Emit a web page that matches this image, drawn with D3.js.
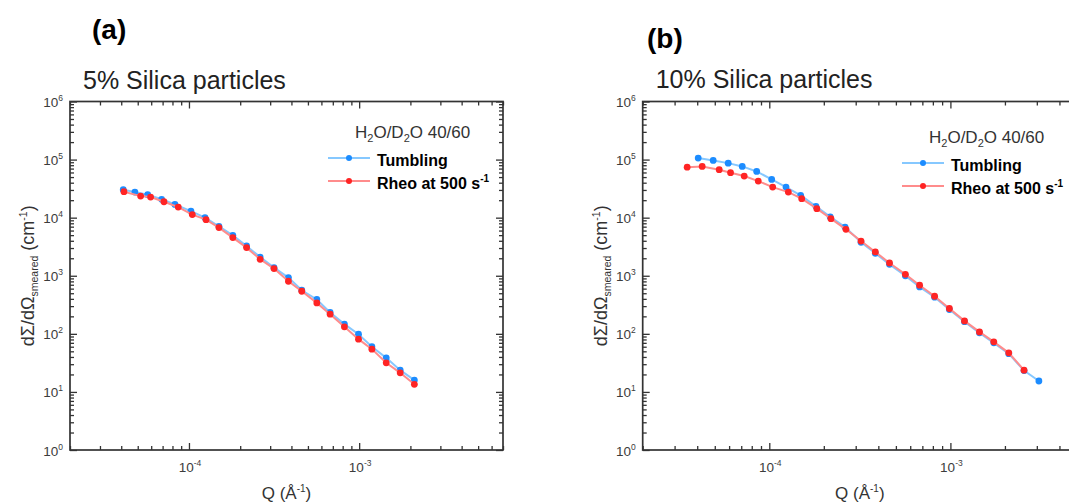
<!DOCTYPE html>
<html>
<head>
<meta charset="utf-8">
<script src="https://cdn.jsdelivr.net/npm/d3@7"></script>
<style>
  html, body { margin: 0; padding: 0; background: #fff; }
  svg { display: block; font-family: "Liberation Sans", Arial, sans-serif; }
</style>
</head>
<body>
<svg id="chart" width="1069" height="504"></svg>
<script>
// SANS scattering curves, smeared cross-section vs Q, two silica loadings.

// Panel (a): 5% silica
const qTumblingA = [4.11e-5, 4.81e-5, 5.72e-5, 6.91e-5, 8.27e-5, 1.027e-4, 1.242e-4, 1.50e-4, 1.81e-4, 2.18e-4, 2.62e-4, 3.16e-4, 3.84e-4, 4.60e-4, 5.64e-4, 6.75e-4, 8.19e-4, 9.91e-4, 1.188e-3, 1.442e-3, 1.742e-3, 2.11e-3];
const iTumblingA = [3.03e4, 2.76e4, 2.49e4, 2.07e4, 1.69e4, 1.30e4, 1.0e4, 7.1e3, 4.97e3, 3.25e3, 2.10e3, 1.38e3, 931, 563, 390, 233, 147, 98.6, 60, 38.6, 23.7, 16.0];
const qRheoA = [4.15e-5, 5.20e-5, 5.95e-5, 7.13e-5, 8.65e-5, 1.046e-4, 1.26e-4, 1.50e-4, 1.81e-4, 2.18e-4, 2.62e-4, 3.16e-4, 3.84e-4, 4.60e-4, 5.64e-4, 6.75e-4, 8.19e-4, 9.91e-4, 1.188e-3, 1.442e-3, 1.742e-3, 2.11e-3];
const iRheoA = [2.80e4, 2.35e4, 2.26e4, 1.88e4, 1.52e4, 1.13e4, 9.25e3, 6.74e3, 4.54e3, 3.05e3, 1.92e3, 1.33e3, 804, 541, 341, 218, 132, 81, 54.5, 31.7, 21.3, 13.5];

// Panel (b): 10% silica
const qTumblingB = [4.05e-5, 4.90e-5, 5.93e-5, 7.09e-5, 8.52e-5, 1.031e-4, 1.237e-4, 1.49e-4, 1.81e-4, 2.17e-4, 2.62e-4, 3.21e-4, 3.85e-4, 4.61e-4, 5.64e-4, 6.76e-4, 8.18e-4, 9.87e-4, 1.196e-3, 1.447e-3, 1.736e-3, 2.10e-3, 2.55e-3, 3.08e-3];
const iTumblingB = [1.06e5, 9.67e4, 8.69e4, 7.63e4, 6.25e4, 4.56e4, 3.36e4, 2.42e4, 1.57e4, 1.03e4, 6.90e3, 3.77e3, 2.44e3, 1.57e3, 1.0e3, 642, 427, 262, 162, 104, 70, 45.6, 23.3, 15.4];
const qRheoB = [3.52e-5, 4.26e-5, 5.29e-5, 6.11e-5, 7.27e-5, 8.69e-5, 1.044e-4, 1.274e-4, 1.51e-4, 1.83e-4, 2.19e-4, 2.65e-4, 3.21e-4, 3.85e-4, 4.61e-4, 5.64e-4, 6.76e-4, 8.18e-4, 9.87e-4, 1.196e-3, 1.447e-3, 1.736e-3, 2.10e-3, 2.55e-3];
const iRheoB = [7.41e4, 7.63e4, 6.69e4, 5.94e4, 5.20e4, 4.26e4, 3.36e4, 2.76e4, 2.12e4, 1.43e4, 9.62e3, 6.30e3, 3.96e3, 2.57e3, 1.66e3, 1.06e3, 687, 444, 273, 167, 108, 72.8, 47.1, 23.7];

// Axis ranges and labels
const qDomainA = [2e-5, 7e-3];
const qDomainB = [2e-5, 5e-3];
const intensityDomain = [1, 1e6];
const yTickExponents = [0, 1, 2, 3, 4, 5, 6];
const xTickExponents = [-4, -3];
const panelLetters = ["(a)", "(b)"];
const panelTitles = ["5% Silica particles", "10% Silica particles"];
const seriesNames = ["Tumbling", "Rheo at 500 s"];

const svg = d3.select("#chart");

const colors = {
  tumbling: { line: "#86c8ff", dot: "#1c8cff" },
  rheo: { line: "#ff8c8c", dot: "#ff2424" }
};

const panels = [
  { left: 70, right: 503, top: 101.5, bottom: 450, qDomain: qDomainA,
    letter: panelLetters[0], letterX: 92, letterY: 39,
    title: panelTitles[0], titleY: 89, legendDy: 0,
    series: [
      { q: qTumblingA, v: iTumblingA, c: colors.tumbling },
      { q: qRheoA, v: iRheoA, c: colors.rheo }
    ] },
  { left: 642.7, right: 1077, top: 101.5, bottom: 450, qDomain: qDomainB,
    letter: panelLetters[1], letterX: 647, letterY: 48,
    title: panelTitles[1], titleY: 88, legendDy: 5,
    series: [
      { q: qTumblingB, v: iTumblingB, c: colors.tumbling },
      { q: qRheoB, v: iRheoB, c: colors.rheo }
    ] }
];

const isDecade = v => Math.abs(Math.log10(v) - Math.round(Math.log10(v))) < 1e-6;

panels.forEach(p => {
  const g = svg.append("g");
  const x = d3.scaleLog().domain(p.qDomain).range([p.left, p.right]);
  const y = d3.scaleLog().domain(intensityDomain).range([p.bottom, p.top]);

  const xAll = x.ticks();
  const yAll = y.ticks();
  const xMajor = xAll.filter(isDecade), xMinor = xAll.filter(v => !isDecade(v));
  const yMajor = yAll.filter(isDecade), yMinor = yAll.filter(v => !isDecade(v));

  // inward-pointing ticks on all four sides
  const sides = [
    [d3.axisBottom, x, `translate(0,${p.bottom})`, xMajor, xMinor],
    [d3.axisTop, x, `translate(0,${p.top})`, xMajor, xMinor],
    [d3.axisLeft, y, `translate(${p.left},0)`, yMajor, yMinor],
    [d3.axisRight, y, `translate(${p.right},0)`, yMajor, yMinor]
  ];
  sides.forEach(([axisFn, scale, tr, major, minor]) => {
    [[major, 7], [minor, 4]].forEach(([vals, len]) => {
      g.append("g")
        .attr("transform", tr)
        .call(axisFn(scale).tickValues(vals).tickSize(-len).tickFormat(() => ""))
        .call(s => s.select(".domain").remove())
        .call(s => s.selectAll("line").attr("stroke", "#333").attr("stroke-width", 1.3));
    });
  });

  // frame
  g.append("rect")
    .attr("x", p.left).attr("y", p.top)
    .attr("width", p.right - p.left).attr("height", p.bottom - p.top)
    .attr("fill", "none").attr("stroke", "#333").attr("stroke-width", 1.7);

  // y tick labels 10^n
  yTickExponents.forEach(e => {
    const t = g.append("text")
      .attr("x", p.left - 7).attr("y", y(Math.pow(10, e)) + 5.5)
      .attr("text-anchor", "end").attr("font-size", 13.5).attr("fill", "#3c3c3c");
    t.append("tspan").text("10");
    t.append("tspan").attr("font-size", 8.5).attr("dy", -6).text(e);
  });

  // x tick labels 10^n
  xTickExponents.forEach(e => {
    const t = g.append("text")
      .attr("x", x(Math.pow(10, e)) + 1).attr("y", 472)
      .attr("text-anchor", "middle").attr("font-size", 13.5).attr("fill", "#3c3c3c");
    t.append("tspan").text("10");
    t.append("tspan").attr("font-size", 8.5).attr("dy", -6).text(e);
  });

  // axis titles
  const yl = g.append("text")
    .attr("transform", `translate(${p.left - 36},${(p.top + p.bottom) / 2}) rotate(-90)`)
    .attr("text-anchor", "middle").attr("font-size", 18).attr("fill", "#333");
  yl.append("tspan").text("dΣ/dΩ");
  yl.append("tspan").attr("font-size", 10.5).attr("dy", 4).text("smeared");
  yl.append("tspan").attr("dy", -4).text(" (cm");
  yl.append("tspan").attr("font-size", 10.5).attr("dy", -7).text("-1");
  yl.append("tspan").attr("dy", 7).text(")");

  const xl = g.append("text")
    .attr("x", (p.left + p.right) / 2).attr("y", 499)
    .attr("text-anchor", "middle").attr("font-size", 17).attr("fill", "#333");
  xl.append("tspan").text("Q (Å");
  xl.append("tspan").attr("font-size", 10).attr("dy", -7).text("-1");
  xl.append("tspan").attr("dy", 7).text(")");

  // panel letter and title
  g.append("text")
    .attr("x", p.letterX).attr("y", p.letterY)
    .attr("font-size", 28).attr("font-weight", "bold").attr("fill", "#000")
    .text(p.letter);
  g.append("text")
    .attr("x", p.left + 13).attr("y", p.titleY)
    .attr("font-size", 25).attr("fill", "#222")
    .text(p.title);

  // data: connecting lines then markers
  const line = d3.line().x(d => x(d[0])).y(d => y(d[1]));
  p.series.forEach(s => {
    const pts = s.q.map((q, i) => [q, s.v[i]]);
    g.append("path").datum(pts)
      .attr("d", line).attr("fill", "none")
      .attr("stroke", s.c.line).attr("stroke-width", 2);
    g.selectAll(null).data(pts).enter().append("circle")
      .attr("cx", d => x(d[0])).attr("cy", d => y(d[1]))
      .attr("r", 3.4).attr("fill", s.c.dot);
  });

  // legend
  const lx = p.right, ly = p.legendDy;
  const lt = g.append("text")
    .attr("x", lx - 148).attr("y", 138 + ly)
    .attr("font-size", 17).attr("fill", "#333");
  lt.append("tspan").text("H");
  lt.append("tspan").attr("font-size", 11).attr("dy", 4).text("2");
  lt.append("tspan").attr("dy", -4).text("O/D");
  lt.append("tspan").attr("font-size", 11).attr("dy", 4).text("2");
  lt.append("tspan").attr("dy", -4).text("O 40/60");

  [[colors.tumbling, 158], [colors.rheo, 181]].forEach(([c, yy], i) => {
    g.append("line")
      .attr("x1", lx - 175).attr("x2", lx - 133)
      .attr("y1", yy + ly).attr("y2", yy + ly)
      .attr("stroke", c.line).attr("stroke-width", 2);
    g.append("circle")
      .attr("cx", lx - 154).attr("cy", yy + ly).attr("r", 3).attr("fill", c.dot);
    const t = g.append("text")
      .attr("x", lx - 126).attr("y", yy + 7.5 + ly)
      .attr("font-size", 16).attr("font-weight", "bold").attr("fill", "#000");
    t.append("tspan").text(seriesNames[i]);
    if (i === 1) t.append("tspan").attr("font-size", 10).attr("dy", -7).text("-1");
  });
});
</script>
</body>
</html>
